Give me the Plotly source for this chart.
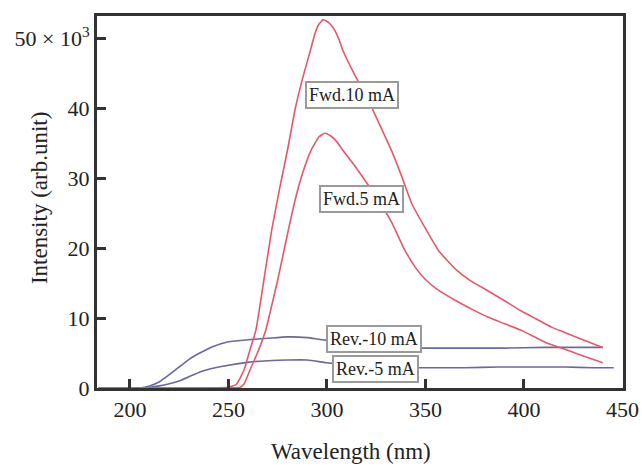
import plotly.graph_objects as go

# ---- data ----
wl_fwd10 = [184, 230, 250, 254, 258, 261, 264, 268, 272, 276, 280, 284, 288, 291, 294, 296, 298, 300,
            302, 304, 306, 308, 314, 321, 327, 333, 338, 343, 350, 357, 366, 373, 381, 390, 398, 406,
            414, 421, 428, 440]
fwd10 = [0, 0, 0.1, 0.5, 2.6, 5.5, 8.3, 15.4, 22.6, 28.5, 34, 40, 44.6, 47.6, 50.7, 52.0, 52.6, 52.4,
         51.9, 51.1, 49.9, 48.3, 44.8, 41.1, 37.5, 33.8, 30.2, 26.4, 22.8, 19.5, 16.8, 15.3, 14.0, 12.5, 11.1, 9.9,
         8.7, 7.9, 7.1, 5.8]

wl_fwd5 = [184, 230, 256, 258, 261, 265, 269, 272, 275, 280, 284, 288, 292, 296, 299, 302, 305, 308,
           314, 320, 326, 333, 339, 345, 350, 356, 366, 374, 382, 390, 399, 411, 420, 428, 440]
fwd5 = [0, 0, 0.1, 0.6, 2.6, 5.2, 8.3, 11.8, 15.4, 22, 27, 31, 34, 35.9, 36.4, 36, 35.2, 34,
        31.8, 29.4, 26.9, 23.6, 20.0, 17.2, 15.5, 14.1, 12.4, 11.2, 10.1, 9.2, 8.2, 6.5, 5.6, 4.8, 3.6]

wl_rev10 = [184, 205, 210, 215, 220, 225, 230, 235.5, 242, 250, 260, 270, 280, 290, 295, 300, 310,
            320, 330, 348, 370, 390, 410, 430, 440]
rev10 = [0, 0, 0.3, 0.9, 1.9, 3.0, 4.1, 5.0, 5.9, 6.6, 6.9, 7.1, 7.3, 7.2, 7.0, 6.8, 6.4,
         6.1, 5.9, 5.7, 5.7, 5.7, 5.8, 5.8, 5.8]

wl_rev5 = [184, 205, 210, 215, 220, 225, 230, 235.5, 245, 260.8, 270, 280, 290, 300, 310, 325, 348,
           370, 387, 405, 421, 435, 445.6]
rev5 = [0, 0, 0.1, 0.3, 0.6, 1.0, 1.6, 2.3, 3.0, 3.7, 3.9, 4.0, 4.0, 3.6, 3.3, 3.0, 2.9,
        2.9, 3.0, 3.0, 3.0, 2.9, 2.9]

x_ticks = [200, 250, 300, 350, 400, 450]
y_ticks = [0, 10, 20, 30, 40, 50]
y_ticktext = ["0", "10", "20", "30", "40", "50 × 10<sup>3</sup>"]

labels = ["Fwd.10 mA", "Fwd.5 mA", "Rev.-10 mA", "Rev.-5 mA"]
label_x = [312.5, 317.5, 323.9, 324.6]
label_y = [41.9, 27.0, 7.07, 2.71]

RED = "rgb(228,88,108)"
BLUE = "rgb(105,105,155)"
FONT = "Liberation Serif"

fig = go.Figure()
for xs, ys, c in [(wl_rev10, rev10, BLUE), (wl_rev5, rev5, BLUE),
                  (wl_fwd5, fwd5, RED), (wl_fwd10, fwd10, RED)]:
    fig.add_trace(go.Scatter(x=xs, y=ys, mode="lines",
                             line=dict(color=c, width=1.6, shape="spline", smoothing=0.4),
                             showlegend=False, hoverinfo="skip"))

for t, x, y in zip(labels, label_x, label_y):
    fig.add_annotation(x=x, y=y, text=t, showarrow=False, font=dict(family=FONT, size=18, color="#222"),
                       bgcolor="white", bordercolor="#9a9a9a", borderwidth=2, borderpad=2)

fig.add_annotation(xref="paper", yref="paper", x=0.482, y=-0.172, text="Wavelength (nm)", showarrow=False,
                   font=dict(family=FONT, size=23, color="#222"), xanchor="center", yanchor="middle")
fig.add_annotation(xref="paper", yref="paper", x=-0.108, y=0.511, text="Intensity (arb.unit)", showarrow=False,
                   textangle=-90, font=dict(family=FONT, size=23, color="#222"), xanchor="center", yanchor="middle")

axis_common = dict(showline=True, linecolor="#333", linewidth=3, mirror=True, ticks="inside",
                   ticklen=9, tickwidth=3, tickcolor="#333", showgrid=False, zeroline=False,
                   automargin=False, tickfont=dict(family=FONT, size=22, color="#222"))
fig.update_xaxes(range=[183.3, 450.3], tickvals=x_ticks, **axis_common)
fig.update_yaxes(range=[0, 53.15], tickvals=y_ticks, ticktext=y_ticktext, **axis_common)

fig.update_layout(width=642, height=466, margin=dict(l=97, r=19, t=16, b=78, autoexpand=False),
                  plot_bgcolor="white", paper_bgcolor="white")

fig.write_html("out.html")
